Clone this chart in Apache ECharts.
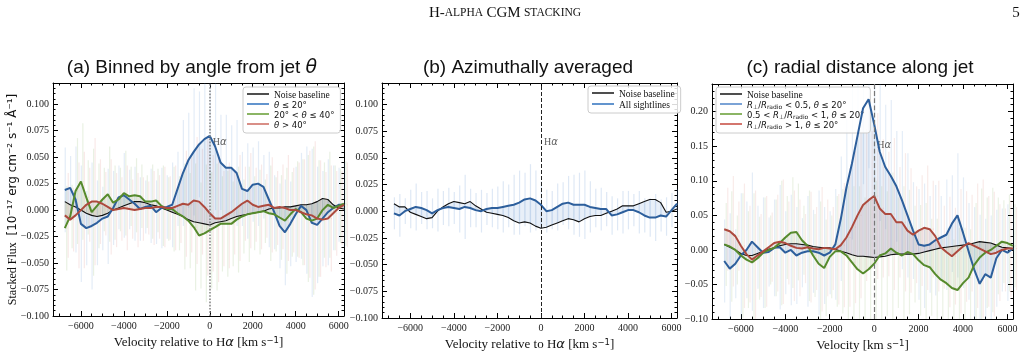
<!DOCTYPE html>
<html>
<head>
<meta charset="utf-8">
<title>H-alpha CGM stacking</title>
<script src="https://cdn.jsdelivr.net/npm/echarts@6.0.0/dist/echarts.min.js"></script>
<style>
  html, body { margin: 0; background: #fff; }
  #chart { width: 1028px; height: 357px; }
</style>
</head>
<body>
<div id="chart"></div>
<script>
// velocity grid (km/s)
var velocity = [
  -6750, -6500, -6250,
  -6000, -5750, -5500, -5250,
  -5000, -4750, -4500, -4250,
  -4000, -3750, -3500, -3250,
  -3000, -2750, -2500, -2250,
  -2000, -1750, -1500, -1250,
  -1000, -750, -500, -250,
  0, 250, 500, 750,
  1000, 1250, 1500, 1750,
  2000, 2250, 2500, 2750,
  3000, 3250, 3500, 3750,
  4000, 4250, 4500, 4750,
  5000, 5250, 5500, 5750,
  6000, 6250
];

// (a) binned by angle
var noiseA = [
  0.008, 0.005, 0.003,
  0.000, -0.003, -0.005, -0.006,
  -0.005, -0.003, 0.000, 0.002,
  0.004, 0.006, 0.008, 0.008,
  0.007, 0.005, 0.004, 0.002,
  0.000, -0.002, -0.004, -0.006,
  -0.009, -0.011, -0.012, -0.013,
  -0.014, -0.012, -0.011, -0.010,
  -0.008, -0.006, -0.005, -0.004,
  -0.003, -0.002, -0.001, 0.001,
  0.002, 0.002, 0.003, 0.003,
  0.004, 0.005, 0.005, 0.006,
  0.008, 0.011, 0.010, 0.005,
  0.002, 0.001
];
var thetaLow = [
  0.019, 0.021, 0.010,
  -0.013, -0.017, -0.015, -0.012,
  -0.008, -0.006, 0.002, 0.012,
  0.014, 0.010, 0.006, 0.001,
  0.003, 0.004, -0.002, 0.002,
  0.003, 0.005, 0.020, 0.035,
  0.047, 0.055, 0.062, 0.067,
  0.070, 0.060, 0.045, 0.040,
  0.040, 0.035, 0.020, 0.018,
  0.024, 0.025, 0.022, 0.010,
  -0.002, -0.015, -0.021, -0.013,
  -0.004, 0.004, 0.000, -0.012,
  -0.014, -0.008, -0.002, 0.002,
  0.005, 0.005
];
var thetaMid = [
  -0.017, -0.006, 0.018,
  0.027, 0.012, -0.002, 0.004,
  0.010, 0.015, 0.007, 0.010,
  0.016, 0.013, 0.014, 0.013,
  0.008, 0.008, 0.009, 0.004,
  0.001, 0.001, -0.003, -0.006,
  -0.010, -0.016, -0.024, -0.022,
  -0.019, -0.016, -0.013, -0.013,
  -0.013, -0.009, -0.006, -0.004,
  -0.003, -0.002, -0.001, -0.003,
  -0.004, -0.007, -0.010, -0.004,
  0.001, -0.002, -0.008, -0.010,
  -0.008, 0.000, 0.005, 0.002,
  0.004, 0.006
];
var thetaHigh = [
  -0.005, -0.009, -0.005,
  0.000, 0.005, 0.008, 0.008,
  0.006, 0.003, 0.000, 0.001,
  0.002, 0.001, 0.000, 0.001,
  0.002, 0.002, 0.003, 0.003,
  0.002, 0.002, 0.004, 0.006,
  0.005, 0.009, 0.008, 0.003,
  -0.003, -0.008, -0.008, -0.005,
  -0.002, 0.002, 0.006, 0.009,
  0.005, 0.003, 0.004, 0.005,
  0.002, 0.003, 0.002, 0.000,
  0.000, -0.002, -0.004, -0.005,
  -0.008, -0.009, -0.008, -0.003,
  0.002, 0.005
];
var errA = [
  0.040, 0.030, 0.050,
  0.055, 0.035, 0.060, 0.040,
  0.030, 0.045, 0.035, 0.030,
  0.040, 0.028, 0.035, 0.030,
  0.025, 0.035, 0.030, 0.038,
  0.030, 0.040, 0.035, 0.050,
  0.045, 0.060, 0.050, 0.065,
  0.055, 0.060, 0.045, 0.050,
  0.040, 0.050, 0.035, 0.045,
  0.035, 0.040, 0.030, 0.045,
  0.035, 0.040, 0.050, 0.040,
  0.045, 0.050, 0.060, 0.070,
  0.055, 0.045, 0.050, 0.040,
  0.035, 0.040
];

// (b) azimuthally averaged
var noiseB = [
  0.007, 0.004, 0.004,
  -0.001, -0.003, -0.005, -0.007,
  -0.006, 0.000, 0.004, 0.007,
  0.009, 0.008, 0.007, 0.009,
  0.005, 0.002, -0.001, -0.002,
  -0.003, -0.004, -0.006, -0.009,
  -0.011, -0.010, -0.011, -0.014,
  -0.016, -0.015, -0.013, -0.011,
  -0.009, -0.007, -0.008, -0.010,
  -0.007, -0.005, -0.004, -0.004,
  -0.002, 0.000, 0.002, 0.005,
  0.005, 0.005, 0.007, 0.009,
  0.011, 0.011, 0.008, -0.001,
  0.000, 0.002
];
var allLines = [
  -0.002, -0.004, 0.000,
  0.002, 0.004, 0.003, 0.001,
  -0.002, 0.001, 0.003, 0.004,
  0.003, 0.002, 0.004, 0.003,
  0.001, 0.000, 0.002, 0.003,
  0.003, 0.004, 0.005, 0.006,
  0.008, 0.011, 0.012, 0.010,
  0.006, 0.000, 0.001, 0.004,
  0.007, 0.008, 0.006, 0.006,
  0.006, 0.004, 0.003, 0.002,
  0.002, -0.004, -0.003, -0.001,
  0.001, 0.001, -0.001, -0.004,
  -0.006, -0.006, -0.004, -0.005,
  0.001, 0.007
];
var errB = [
  0.015, 0.020, 0.012,
  0.018, 0.022, 0.015, 0.018,
  0.014, 0.020, 0.016, 0.018,
  0.015, 0.022, 0.030, 0.018,
  0.016, 0.020, 0.015, 0.018,
  0.020, 0.024, 0.020, 0.028,
  0.030, 0.025, 0.032, 0.028,
  0.022, 0.020, 0.018, 0.022,
  0.020, 0.025, 0.028, 0.030,
  0.032, 0.024, 0.018, 0.020,
  0.016, 0.018, 0.015, 0.020,
  0.018, 0.015, 0.020, 0.016,
  0.018, 0.022, 0.015, 0.018,
  0.016, 0.014
];

// (c) radial distance along jet
var noiseC = [
  0.008, 0.004, 0.000,
  -0.005, -0.008, -0.008, -0.005,
  -0.002, 0.001, 0.003, 0.006,
  0.008, 0.009, 0.009, 0.008,
  0.007, 0.005, 0.004, 0.003,
  0.003, 0.001, -0.002, -0.004,
  -0.007, -0.009, -0.009, -0.010,
  -0.011, -0.010, -0.009, -0.007,
  -0.006, -0.006, -0.006, -0.006,
  -0.005, -0.003, -0.001, 0.001,
  0.003, 0.004, 0.005, 0.006,
  0.007, 0.008, 0.010, 0.012,
  0.011, 0.010, 0.007, 0.004,
  0.003, 0.002
];
var radialInner = [
  -0.016, -0.027, -0.020,
  -0.008, 0.000, 0.012, 0.004,
  -0.004, -0.003, 0.003, 0.004,
  -0.004, 0.000, -0.008, -0.004,
  -0.002, -0.002, -0.004, -0.008,
  -0.004, 0.008, 0.045, 0.090,
  0.125, 0.165, 0.205, 0.218,
  0.182, 0.142, 0.120, 0.107,
  0.092, 0.072, 0.050, 0.028,
  0.008, 0.006, 0.008, 0.014,
  0.018, 0.022, 0.038, 0.050,
  0.025, -0.002, -0.028, -0.049,
  -0.035, -0.040, -0.012, 0.000,
  -0.004, 0.002
];
var radialMid = [
  0.008, 0.005, 0.000,
  -0.008, -0.014, -0.018, -0.012,
  -0.004, 0.000, 0.003, 0.010,
  0.018, 0.025, 0.026, 0.014,
  0.006, -0.008, -0.020, -0.026,
  -0.010, -0.002, -0.002, -0.008,
  -0.018, -0.028, -0.034, -0.028,
  -0.020, -0.008, -0.005, 0.002,
  -0.004, -0.008, -0.003, -0.006,
  -0.015, -0.022, -0.025, -0.035,
  -0.043, -0.048, -0.055, -0.058,
  -0.048, -0.040, -0.022, -0.011,
  -0.004, 0.000, 0.006, 0.012,
  0.010, 0.006
];
var radialOuter = [
  0.030, 0.027, 0.020,
  0.006, -0.006, -0.014, -0.008,
  -0.002, 0.004, 0.010, 0.012,
  0.010, 0.006, 0.003, 0.002,
  0.004, 0.002, 0.001, 0.003,
  0.002, 0.001, 0.007, 0.018,
  0.033, 0.050, 0.065, 0.072,
  0.078, 0.060, 0.052, 0.052,
  0.040, 0.040, 0.028, 0.022,
  0.028, 0.032, 0.030, 0.020,
  0.004, -0.003, -0.009, -0.002,
  0.005, 0.010, 0.006, 0.002,
  -0.002, -0.006, -0.004, 0.000,
  0.002, 0.002
];
var errC = [
  0.060, 0.080, 0.050,
  0.090, 0.070, 0.100, 0.060,
  0.080, 0.050, 0.070, 0.090,
  0.060, 0.080, 0.070, 0.050,
  0.080, 0.060, 0.090, 0.070,
  0.060, 0.080, 0.090, 0.100,
  0.110, 0.120, 0.110, 0.100,
  0.120, 0.100, 0.090, 0.110,
  0.080, 0.100, 0.090, 0.070,
  0.080, 0.090, 0.070, 0.080,
  0.060, 0.080, 0.070, 0.090,
  0.080, 0.070, 0.090, 0.100,
  0.080, 0.090, 0.070, 0.060,
  0.070, 0.060
];

var xTickLabels = [-6000, -4000, -2000, 0, 2000, 4000, 6000];
var yTickLabelsAB = [-0.1, -0.075, -0.05, -0.025, 0, 0.025, 0.05, 0.075, 0.1];
var yTickLabelsC = [-0.1, -0.05, 0, 0.05, 0.1, 0.15, 0.2];
var hAlphaA = [120, 0.064];
var hAlphaB = [120, 0.064];
var hAlphaC = [120, 0.151];

var SERIF = "'Liberation Serif', 'DejaVu Serif', serif";
var SANS = "'Liberation Sans', Arial, sans-serif";
var MATH = "'DejaVu Sans', sans-serif";
var X_MIN = -7300, X_MAX = 6250;

function steps(a, b, s) {
  var out = [];
  for (var i = 0; a + i * s <= b + 1e-9; i++) out.push(+(a + i * s).toFixed(4));
  return out;
}
var xMinor = steps(-7000, 6000, 500);

function minusFmt(s) { return s.replace('-', '\u2212'); }

var panels = [
  {
    grid: {left: 53, top: 83, width: 291, height: 233},
    yMin: -0.1, yMax: 0.12, yTicks: yTickLabelsAB, yMinor: steps(-0.1, 0.12, 0.005), digits: 3,
    noise: noiseA, err: errA, hAlpha: hAlphaA,
    vline: {color: '#888', width: 1.6, type: 'dotted'},
    xName: '{s|Velocity relative to H}{it|\u03b1}{s| [km s}{sp|\u22121}{s|]}',
    yName: '{s|Stacked Flux}  {m|[10\u207b\u00b9\u2077 erg cm\u207b\u00b2 s\u207b\u00b9 \u00c5\u207b\u00b9]}',
    legend: {left: 243, top: 87},
    lines: [
      {name: '\u03b8 \u2264 20\u00b0', data: thetaLow, color: '#2d5f9c', legend: '#3b7ac2', fill: 'rgba(80,130,200,0.13)', bar: 'rgba(90,140,205,0.17)'},
      {name: '20\u00b0 < \u03b8 \u2264 40\u00b0', data: thetaMid, color: '#568a2c', legend: '#6ea33e', fill: 'rgba(110,150,80,0.12)', bar: 'rgba(120,170,80,0.16)'},
      {name: '\u03b8 > 40\u00b0', data: thetaHigh, color: '#ad4a3e', legend: '#d0736a', fill: 'rgba(150,110,100,0.12)', bar: 'rgba(215,120,110,0.16)'}
    ]
  },
  {
    grid: {left: 382, top: 83, width: 295, height: 235},
    yMin: -0.1, yMax: 0.12, yTicks: yTickLabelsAB, yMinor: steps(-0.1, 0.12, 0.005), digits: 3,
    noise: noiseB, err: errB, hAlpha: hAlphaB,
    vline: {color: '#222', width: 1, type: 'dashed'},
    xName: '{s|Velocity relative to H}{it|\u03b1}{s| [km s}{sp|\u22121}{s|]}',
    legend: {left: 588, top: 86},
    lines: [
      {name: 'All sightlines', data: allLines, color: '#2d5f9c', legend: '#3b7ac2', fill: 'rgba(80,130,200,0.13)', bar: 'rgba(90,140,205,0.2)'}
    ]
  },
  {
    grid: {left: 712, top: 84, width: 301, height: 238},
    yMin: -0.1, yMax: 0.24, yTicks: yTickLabelsC, yMinor: steps(-0.1, 0.24, 0.01), digits: 2,
    noise: noiseC, err: errC, hAlpha: hAlphaC,
    vline: {color: '#777', width: 1.2, type: 'dashed'},
    xName: '{s|Velocity [km s}{sp|\u22121}{s|]}',
    legend: {left: 716, top: 87},
    lines: [
      {name: 'R\u22a5/Rradio < 0.5', data: radialInner, color: '#2d5f9c', legend: '#5b8ccc', fill: 'rgba(80,130,200,0.12)', bar: 'rgba(90,140,205,0.16)'},
      {name: '0.5 < R\u22a5/Rradio < 1', data: radialMid, color: '#568a2c', legend: '#6ea33e', fill: 'rgba(120,165,80,0.10)', bar: 'rgba(120,170,80,0.15)'},
      {name: 'R\u22a5/Rradio > 1', data: radialOuter, color: '#ad4a3e', legend: '#c9544a', fill: 'rgba(160,100,110,0.12)', bar: 'rgba(215,120,110,0.15)'}
    ]
  }
];

var legendText = {
  'Noise baseline': '{s|Noise baseline}',
  'All sightlines': '{s|All sightlines}',
  '\u03b8 \u2264 20\u00b0': '{mi|\u03b8}{m| \u2264 20\u00b0}',
  '20\u00b0 < \u03b8 \u2264 40\u00b0': '{m|20\u00b0 < }{mi|\u03b8}{m| \u2264 40\u00b0}',
  '\u03b8 > 40\u00b0': '{mi|\u03b8}{m| > 40\u00b0}',
  'R\u22a5/Rradio < 0.5': '{mi|R}{sb|\u22a5}{m|/}{mi|R}{sb|radio}{m| < 0.5, }{mi|\u03b8}{m| \u2264 20\u00b0}',
  '0.5 < R\u22a5/Rradio < 1': '{m|0.5 < }{mi|R}{sb|\u22a5}{m|/}{mi|R}{sb|radio}{m| < 1, }{mi|\u03b8}{m| \u2264 20\u00b0}',
  'R\u22a5/Rradio > 1': '{mi|R}{sb|\u22a5}{m|/}{mi|R}{sb|radio}{m| > 1, }{mi|\u03b8}{m| \u2264 20\u00b0}'
};
var legendRich = {
  s: {fontFamily: SERIF, fontSize: 9.5, lineHeight: 12, verticalAlign: 'bottom'},
  m: {fontFamily: MATH, fontSize: 8.5, lineHeight: 12, verticalAlign: 'bottom'},
  mi: {fontFamily: MATH, fontStyle: 'italic', fontSize: 8.5, lineHeight: 12, verticalAlign: 'bottom'},
  sb: {fontFamily: MATH, fontSize: 6, lineHeight: 4, verticalAlign: 'bottom'}
};

function xAxisDef(g, pos, ticks, len, withLabel, name, line) {
  return {
    type: 'value', gridIndex: g, min: X_MIN, max: X_MAX, position: pos,
    axisLine: {show: !!line, onZero: false, lineStyle: {color: '#000', width: 1}},
    axisTick: {show: true, inside: true, length: len, customValues: ticks, lineStyle: {color: '#000', width: 1}},
    axisLabel: withLabel ? {
      show: true, customValues: ticks, margin: 5, color: '#222', fontFamily: SERIF, fontSize: 10,
      formatter: function (v) { return minusFmt(String(v)); }
    } : {show: false},
    splitLine: {show: false},
    name: name || '', nameLocation: 'middle', nameGap: 19,
    nameTextStyle: {
      color: '#111',
      rich: {
        s: {fontFamily: SERIF, fontSize: 13, color: '#111'},
        it: {fontFamily: MATH, fontStyle: 'italic', fontSize: 13, color: '#111'},
        sp: {fontFamily: MATH, fontSize: 8.5, color: '#111', verticalAlign: 'top', lineHeight: 9}
      }
    }
  };
}
function yAxisDef(g, p, pos, ticks, len, withLabel, name, line) {
  return {
    type: 'value', gridIndex: g, min: p.yMin, max: p.yMax, position: pos,
    axisLine: {show: !!line, onZero: false, lineStyle: {color: '#000', width: 1}},
    axisTick: {show: true, inside: true, length: len, customValues: ticks, lineStyle: {color: '#000', width: 1}},
    axisLabel: withLabel ? {
      show: true, customValues: ticks, margin: 4, color: '#222', fontFamily: SERIF, fontSize: 10,
      formatter: function (v) { return minusFmt(v.toFixed(p.digits)); }
    } : {show: false},
    splitLine: {show: false},
    name: name || '', nameLocation: 'middle', nameGap: 34, nameRotate: 90, nameMoveOverlap: false,
    nameTextStyle: {
      rich: {
        s: {fontFamily: SERIF, fontSize: 12, color: '#111'},
        m: {fontFamily: MATH, fontSize: 12, color: '#111'}
      }
    }
  };
}

function clampY(p, y) { return Math.max(p.yMin, Math.min(p.yMax, y)); }

var option = {
  animation: false,
  backgroundColor: '#fff',
  grid: [], xAxis: [], yAxis: [], series: [], legend: [],
  graphic: [
    {type: 'text', x: 505, y: 13, style: {
      text: '{b|H-}{c|ALPHA} {b|CGM} {c|STACKING}', align: 'center', verticalAlign: 'middle',
      rich: {b: {fontFamily: SERIF, fontSize: 15, fill: '#111'}, c: {fontFamily: SERIF, fontSize: 11.5, fill: '#111'}}
    }},
    {type: 'text', x: 1016, y: 13, style: {text: '5', font: '15px ' + SERIF, fill: '#111', align: 'center', verticalAlign: 'middle'}},
    {type: 'text', x: 192, y: 68, style: {
      text: '{t|(a) Binned by angle from jet }{ti|\u03b8}', align: 'center', verticalAlign: 'middle',
      rich: {t: {fontFamily: SANS, fontSize: 19, fill: '#111'}, ti: {fontFamily: MATH, fontStyle: 'italic', fontSize: 19, fill: '#111'}}
    }},
    {type: 'text', x: 528, y: 68, style: {text: '(b) Azimuthally averaged', font: '19px ' + SANS, fill: '#111', align: 'center', verticalAlign: 'middle'}},
    {type: 'text', x: 860, y: 68, style: {text: '(c) radial distance along jet', font: '19px ' + SANS, fill: '#111', align: 'center', verticalAlign: 'middle'}}
  ]
};

panels.forEach(function (p, g) {
  option.grid.push(p.grid);
  var xi = option.xAxis.length, yi = option.yAxis.length;
  option.xAxis.push(xAxisDef(g, 'bottom', xTickLabels, 5, true, p.xName, true));
  option.xAxis.push(xAxisDef(g, 'bottom', xMinor, 2.5, false));
  option.xAxis.push(xAxisDef(g, 'top', xTickLabels, 5, false, null, true));
  option.xAxis.push(xAxisDef(g, 'top', xMinor, 2.5, false));
  option.yAxis.push(yAxisDef(g, p, 'left', p.yTicks, 5, true, p.yName, true));
  option.yAxis.push(yAxisDef(g, p, 'left', p.yMinor, 2.5, false));
  option.yAxis.push(yAxisDef(g, p, 'right', p.yTicks, 5, false, null, true));
  option.yAxis.push(yAxisDef(g, p, 'right', p.yMinor, 2.5, false));

  // error bars around each binned series
  p.lines.forEach(function (ln, k) {
    var bars = velocity.map(function (v, i) { return [v + k * 70 + 20, ln.data[i], p.err[i]]; });
    option.series.push({
      type: 'custom', xAxisIndex: xi, yAxisIndex: yi, z: 1, silent: true,
      encode: {x: 0, y: 1}, data: bars,
      renderItem: function (params, api) {
        var x = api.value(0), y = api.value(1), e = api.value(2);
        var a = api.coord([x, clampY(p, y - e)]), b = api.coord([x, clampY(p, y + e)]);
        var c = api.coord([x, y]);
        return {type: 'group', children: [
          {type: 'line', shape: {x1: a[0], y1: a[1], x2: b[0], y2: b[1]}, style: {stroke: ln.bar, lineWidth: 1.2}},
          {type: 'rect', shape: {x: c[0] - 0.6, y: c[1] - 0.6, width: 1.2, height: 1.2}, style: {fill: ln.bar}}
        ]};
      }
    });
  });

  // shaded band between each series and the noise baseline
  p.lines.forEach(function (ln) {
    var band = [];
    for (var i = 0; i < velocity.length - 1; i++) {
      band.push([velocity[i], velocity[i + 1], ln.data[i], ln.data[i + 1], p.noise[i], p.noise[i + 1]]);
    }
    option.series.push({
      type: 'custom', xAxisIndex: xi, yAxisIndex: yi, z: 2, silent: true,
      encode: {x: [0, 1], y: [2, 3, 4, 5]}, data: band,
      renderItem: function (params, api) {
        var pts = [
          api.coord([api.value(0), api.value(2)]),
          api.coord([api.value(1), api.value(3)]),
          api.coord([api.value(1), api.value(5)]),
          api.coord([api.value(0), api.value(4)])
        ];
        return {type: 'polygon', shape: {points: pts}, style: {fill: ln.fill, stroke: ln.fill, lineWidth: 0.3}};
      }
    });
  });

  option.series.push({
    name: 'Noise baseline', type: 'line', xAxisIndex: xi, yAxisIndex: yi, z: 3,
    data: velocity.map(function (v, i) { return [v, p.noise[i]]; }),
    showSymbol: false, symbol: 'none', color: '#111',
    lineStyle: {color: '#111', width: 1.1},
    markLine: {
      silent: true, symbol: ['none', 'none'], label: {show: false},
      lineStyle: {color: p.vline.color, width: p.vline.width, type: p.vline.type},
      data: [{xAxis: 0}]
    }
  });
  p.lines.forEach(function (ln) {
    option.series.push({
      name: ln.name, type: 'line', xAxisIndex: xi, yAxisIndex: yi, z: 4,
      data: velocity.map(function (v, i) { return [v, ln.data[i]]; }),
      showSymbol: false, symbol: 'none', color: ln.legend,
      lineStyle: {color: ln.color, width: 2}
    });
  });
  option.series.push({
    type: 'scatter', xAxisIndex: xi, yAxisIndex: yi, z: 3, silent: true,
    data: [p.hAlpha], symbolSize: 1, itemStyle: {color: 'rgba(0,0,0,0)'},
    label: {
      show: true, position: 'right', distance: 0, formatter: '{s|H}{it|\u03b1}',
      rich: {s: {fontFamily: SERIF, fontSize: 10, color: '#333'}, it: {fontFamily: MATH, fontStyle: 'italic', fontSize: 10, color: '#333'}}
    }
  });

  option.legend.push({
    left: p.legend.left, top: p.legend.top, orient: 'vertical',
    data: [{name: 'Noise baseline', itemStyle: {color: '#222'}}].concat(p.lines.map(function (ln) {
      return {name: ln.name, itemStyle: {color: ln.legend}};
    })),
    icon: 'rect', itemWidth: 22, itemHeight: 1.6, itemGap: 1, selectedMode: false,
    padding: [3, 6, 3, 4], backgroundColor: 'rgba(255,255,255,0.85)',
    borderColor: '#cccccc', borderWidth: 1, borderRadius: 3,
    textStyle: {color: '#111', fontSize: 9, rich: legendRich},
    formatter: function (name) { return legendText[name] || name; }
  });
});

var chart = echarts.init(document.getElementById('chart'), null, {renderer: 'canvas'});
chart.setOption(option);
</script>
</body>
</html>
